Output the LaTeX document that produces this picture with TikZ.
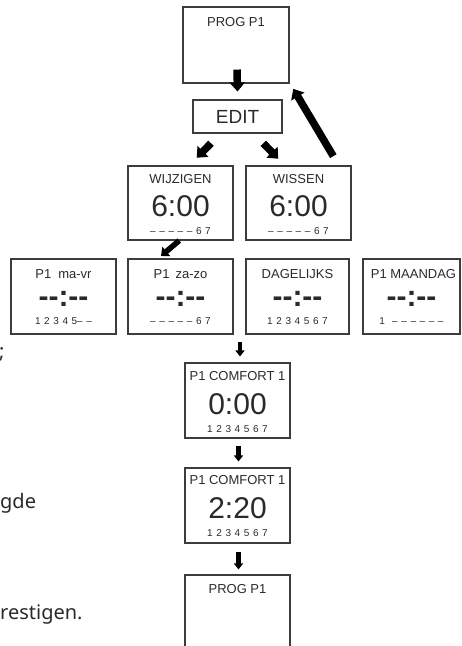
\documentclass[tikz,border=0pt]{standalone}
\usepackage{fontspec}
\setmainfont{Liberation Sans}
\newfontfamily\bx{Liberation Sans}
\newfontfamily\lt{Noto Sans}
\usetikzlibrary{arrows.meta,calc}
\definecolor{ink}{HTML}{2A2A2A}
\definecolor{frame}{HTML}{3C3C3C}
\newcommand\g{\hspace{3.6pt}}
\tikzset{
  dispbox/.style={draw=frame, line width=1.1pt, inner sep=0pt, minimum width=105pt, minimum height=75pt},
  ttl/.style={text=ink, inner sep=0pt, font=\bx\fontsize{13}{13}\selectfont},
  big/.style={text=ink, inner sep=0pt, font=\bx\fontsize{30}{30}\selectfont},
  dsh/.style={text=ink, inner sep=0pt, font=\bx\bfseries\fontsize{30}{30}\selectfont},
  dig/.style={text=ink, inner sep=0pt, font=\bx\fontsize{10}{10}\selectfont},
  side/.style={text=ink, inner sep=0pt, font=\lt\fontsize{20}{20}\selectfont, anchor=base west},
  bigarrow/.style={draw=black, line width=7.5pt, -{Triangle[width=15pt,length=9pt]}},
  midarrow/.style={draw=black, line width=5.5pt, -{Triangle[width=12pt,length=7pt]}},
  smallarrow/.style={draw=black, line width=4.5pt, -{Triangle[width=9pt,length=6pt]}}
}
\begin{document}
\begin{tikzpicture}[x=1pt,y=-1pt]
\useasboundingbox (0,0) rectangle (462,646);
\clip (0,0) rectangle (462,646);

% boxes
\node[dispbox, minimum width=106pt, minimum height=76pt] (prog1) at (236,45) {};
\node[dispbox, minimum width=89pt, minimum height=33pt] (edit) at (237.5,116.5) {};
\node[dispbox, minimum height=74pt] (wijz) at (180.5,203) {};
\node[dispbox, minimum height=74pt] (wiss) at (298.5,203) {};
\node[dispbox] (mavr) at (63.5,296.5) {};
\node[dispbox] (zazo) at (180.5,296.5) {};
\node[dispbox, minimum width=103pt] (dag) at (297.5,296.5) {};
\node[dispbox, minimum width=97pt] (maan) at (411.5,296.5) {};
\node[dispbox] (c1) at (237.5,400.5) {};
\node[dispbox] (c2) at (237.5,505.5) {};
\node[dispbox, minimum height=105pt] (prog2) at (237.5,627.5) {};

% texts
\node[ttl] (prog1t) at ($(prog1.north)+(0,15.5)$) {PROG P1};
\node[text=ink, inner sep=0pt, font=\bx\fontsize{19}{19}\selectfont] (editt) at (edit.center) {EDIT};

\node[ttl] (wijzt) at ($(wijz.north)+(0,14)$) {WIJZIGEN};
\node[big] (wijzv) at ($(wijz.north)+(0,40.5)$) {6:00};
\node[dig] (wijzd) at ($(wijz.north)+(0,65.5)$) {–\g–\g–\g–\g–\g6\g7};

\node[ttl] (wisst) at ($(wiss.north)+(0,14)$) {WISSEN};
\node[big] (wissv) at ($(wiss.north)+(0,40.5)$) {6:00};
\node[dig] (wissd) at ($(wiss.north)+(0,65.5)$) {–\g–\g–\g–\g–\g6\g7};

\node[ttl] (mavrt) at ($(mavr.north)+(0,16)$) {P1\hspace{7pt}ma-vr};
\node[dsh] (mavrv) at ($(mavr.north)+(0,40.5)$) {\hbox{-}\hbox{-}:\hbox{-}\hbox{-}};
\node[dig] (mavrd) at ($(mavr.north)+(0,62.5)$) {1\g2\g3\g4\g5–\g–};

\node[ttl] (zazot) at ($(zazo.north)+(0,16)$) {P1\hspace{6pt}za-zo};
\node[dsh] (zazov) at ($(zazo.north)+(0,40.5)$) {\hbox{-}\hbox{-}:\hbox{-}\hbox{-}};
\node[dig] (zazod) at ($(zazo.north)+(0,62.5)$) {–\g–\g–\g–\g–\g6\g7};

\node[ttl] (dagt) at ($(dag.north)+(0,16)$) {DAGELIJKS};
\node[dsh] (dagv) at ($(dag.north)+(0,40.5)$) {\hbox{-}\hbox{-}:\hbox{-}\hbox{-}};
\node[dig] (dagd) at ($(dag.north)+(0,62.5)$) {1\g2\g3\g4\g5\g6\g7};

\node[ttl] (maant) at ($(maan.north)+(2,16)$) {P1 MAANDAG};
\node[dsh] (maanv) at ($(maan.north)+(0,40.5)$) {\hbox{-}\hbox{-}:\hbox{-}\hbox{-}};
\node[dig] (maand) at ($(maan.north)+(0,62.5)$) {1\g\g–\g–\g–\g–\g–\g–};

\node[ttl] (c1t) at ($(c1.north)+(0,13.7)$) {P1 COMFORT 1};
\node[big] (c1v) at ($(c1.north)+(0,41.5)$) {0:00};
\node[dig] (c1d) at ($(c1.north)+(0,66.3)$) {1\g2\g3\g4\g5\g6\g7};

\node[ttl] (c2t) at ($(c2.north)+(0,12.7)$) {P1 COMFORT 1};
\node[big] (c2v) at ($(c2.north)+(0,41)$) {2:20};
\node[dig] (c2d) at ($(c2.north)+(0,66)$) {1\g2\g3\g4\g5\g6\g7};

\node[ttl] (prog2t) at ($(prog2.north)+(0,15)$) {PROG P1};

% side text fragments
\node[side] (s1) at (-1,358) {;};
\node[side] (s2) at (0,508) {gde};
\node[side] (s3) at (0,619) {restigen.};

% arrows
\draw[bigarrow] ($(prog1.south)+(1,-14)$) -- ($(edit.north)+(0,-8)$);
\draw[bigarrow] ($(edit.south)+(-26.5,9.7)$) -- ($(wijz.north)+(16.2,-7.7)$);
\draw[bigarrow] ($(edit.south)+(25.8,9.7)$) -- ($(wiss.north)+(-20.2,-6.7)$);
\draw[bigarrow] ($(wiss.north)+(34.8,-9.3)$) -- ($(prog1.south east)+(3.7,5.3)$);
\draw[midarrow] ($(wijz.south)+(-1.2,0)$) -- ($(zazo.north)+(-19.5,-2.5)$);
\draw[smallarrow] ($(c1.north)+(2.5,-20)$) -- ($(c1.north)+(2.5,-6)$);
\draw[smallarrow] ($(c2.north)+(1,-21)$) -- ($(c2.north)+(1,-6)$);
\draw[smallarrow] ($(prog2.north)+(1,-22)$) -- ($(prog2.north)+(1,-5)$);
\end{tikzpicture}
\end{document}
